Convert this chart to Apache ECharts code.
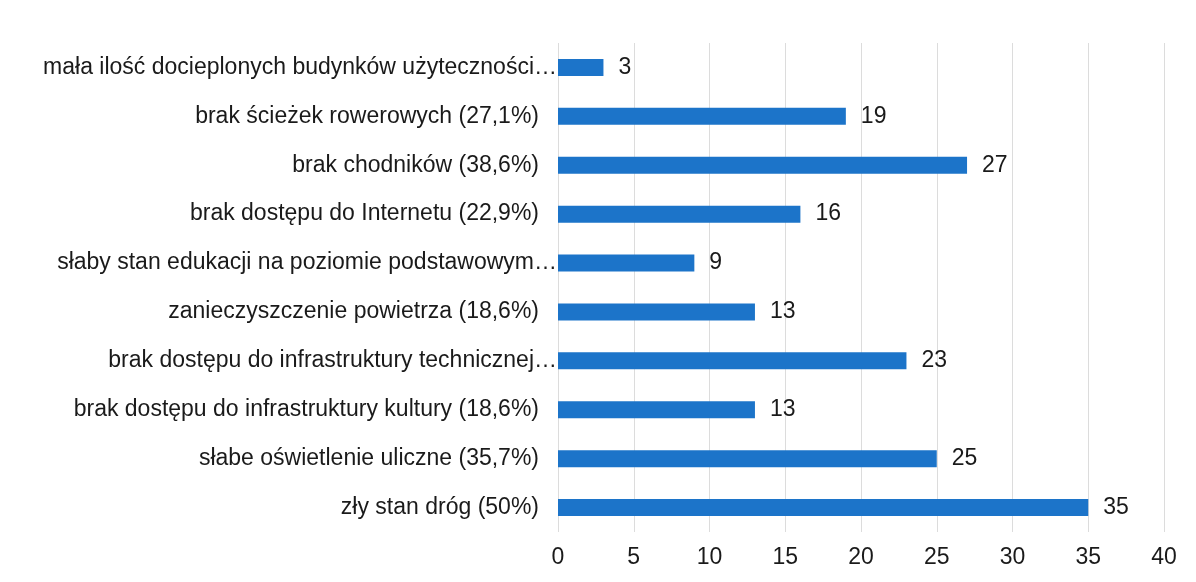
<!DOCTYPE html>
<html>
<head>
<meta charset="utf-8">
<script src="https://cdn.jsdelivr.net/npm/echarts@6/dist/echarts.min.js"></script>
<style>
  html, body { margin: 0; padding: 0; background: #fff; }
  #main { width: 1196px; height: 582px; }
</style>
</head>
<body>
<div id="main"></div>
<script>
// data, top to bottom as in the picture
const categories = [
  "mała ilość docieplonych budynków użyteczności…",
  "brak ścieżek rowerowych (27,1%)",
  "brak chodników (38,6%)",
  "brak dostępu do Internetu (22,9%)",
  "słaby stan edukacji na poziomie podstawowym…",
  "zanieczyszczenie powietrza (18,6%)",
  "brak dostępu do infrastruktury technicznej…",
  "brak dostępu do infrastruktury kultury (18,6%)",
  "słabe oświetlenie uliczne (35,7%)",
  "zły stan dróg (50%)"
]
const values = [3, 19, 27, 16, 9, 13, 23, 13, 25, 35]

const font = "'Liberation Sans', Arial, sans-serif"

// truncated labels reach up to the bars, the others keep a gap
const yLabels = categories.map(c => ({
  value: c,
  textStyle: { padding: c.endsWith("…") ? [0, 0, 0, 0] : [0, 18, 0, 0] }
}))

const options = {
  backgroundColor: "#fff",
  animation: false,
  grid: { left: 558, right: 32, top: 43, bottom: 50 },
  xAxis: {
    type: "value",
    min: 0, max: 40, interval: 5,
    axisLine: { show: false },
    axisTick: { show: false },
    splitLine: { lineStyle: { color: "#dcdcdc" } },
    axisLabel: { color: "#1a1a1a", fontSize: 23, fontFamily: font, margin: 14 }
  },
  yAxis: {
    type: "category",
    inverse: true,
    data: yLabels,
    axisLine: { show: false },
    axisTick: { show: false },
    axisLabel: { color: "#1a1a1a", fontSize: 23, fontFamily: font, margin: 1 }
  },
  series: [{
    type: "bar",
    data: values,
    barWidth: 17,
    itemStyle: { color: "#1c74c9" },
    label: {
      show: true, position: "right", distance: 15,
      color: "#1a1a1a", fontSize: 23, fontFamily: font
    }
  }]
}

const myChart = echarts.init(document.getElementById("main"))
myChart.setOption(options)
window.onresize = () => myChart.resize()
</script>
</body>
</html>
